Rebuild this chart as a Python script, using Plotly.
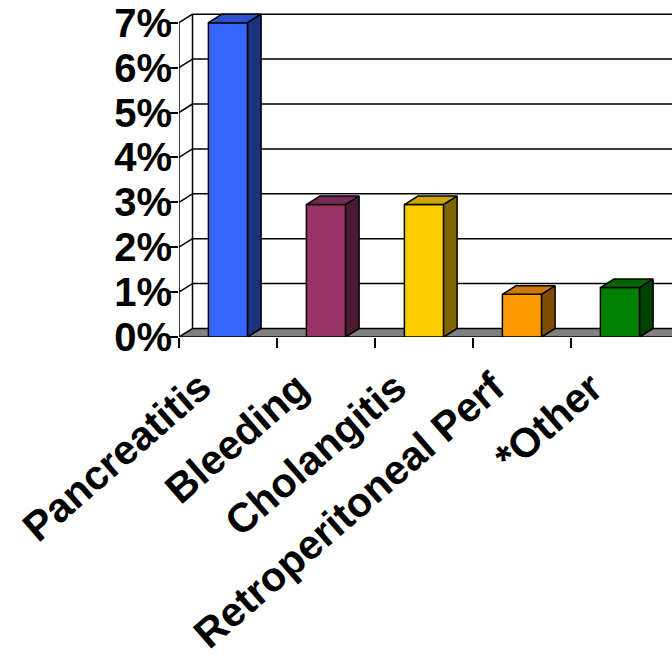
import plotly.graph_objects as go

categories = ["Pancreatitis", "Bleeding", "Cholangitis", "Retroperitoneal Perf", "*Other"]
values = [7.0, 2.95, 2.95, 0.95, 1.1]
front_colors = ["#3366FF", "#993366", "#FFCC00", "#FF9900", "#008000"]
top_colors = ["#2952CC", "#7A2952", "#CCA300", "#CC7A00", "#006600"]
side_colors = ["#1A3380", "#4D1A33", "#806600", "#804D00", "#004000"]
y_ticks = [0, 1, 2, 3, 4, 5, 6, 7]

W, H = 672, 658
left_px, right_px, top_px, bottom_px = 179, 0, 5, 658 - 337
cat_px = 98.0
pct_px = 44.9
plot_w = W - left_px - right_px
plot_h = H - top_px - bottom_px
x0 = -0.5
xmax = x0 + plot_w / cat_px
ymax = plot_h / pct_px
ddx = 13.5 / cat_px   # depth offset in data units
ddy = 8.5 / pct_px
bw = 0.4

fig = go.Figure()

# bar front faces
fig.add_trace(go.Bar(
    x=list(range(len(categories))), y=values, width=bw,
    marker=dict(color=front_colors, line=dict(color="black", width=1.5)),
    hoverinfo="skip", showlegend=False,
))

# bar top and side faces
for i, v in enumerate(values):
    xl, xr = i - bw / 2, i + bw / 2
    fig.add_trace(go.Scatter(
        x=[xl, xr, xr + ddx, xl + ddx, xl], y=[v, v, v + ddy, v + ddy, v],
        fill="toself", fillcolor=top_colors[i], mode="lines",
        line=dict(color="black", width=1.5), hoverinfo="skip", showlegend=False))
    fig.add_trace(go.Scatter(
        x=[xr, xr + ddx, xr + ddx, xr, xr], y=[0, ddy, v + ddy, v, 0],
        fill="toself", fillcolor=side_colors[i], mode="lines",
        line=dict(color="black", width=1.5), hoverinfo="skip", showlegend=False))

shapes = []
# floor
shapes.append(dict(type="path", xref="x", yref="y", layer="below",
                   path=f"M {x0},0 L {xmax + 1},0 L {xmax + 1 + ddx},{ddy} L {x0 + ddx},{ddy} Z",
                   fillcolor="#808080", line=dict(color="black", width=1.5)))
# back wall gridlines
for k in y_ticks:
    if k == 0:
        continue
    shapes.append(dict(type="line", xref="x", yref="y", layer="below",
                       x0=x0 + ddx, x1=xmax + 1, y0=k + ddy, y1=k + ddy,
                       line=dict(color="black", width=1.5)))
    # left wall diagonals
    shapes.append(dict(type="line", xref="x", yref="y", layer="below",
                       x0=x0, x1=x0 + ddx, y0=k, y1=k + ddy,
                       line=dict(color="black", width=1.5)))
# back wall left edge
shapes.append(dict(type="line", xref="x", yref="y", layer="below",
                   x0=x0 + ddx, x1=x0 + ddx, y0=ddy, y1=max(y_ticks) + ddy,
                   line=dict(color="black", width=1.5)))
# front vertical axis
shapes.append(dict(type="line", xref="x", yref="y", layer="below",
                   x0=x0, x1=x0, y0=0, y1=max(y_ticks),
                   line=dict(color="black", width=1.5)))
fig.update_layout(shapes=shapes)

font_family = "Liberation Sans, Arial, sans-serif"

# category labels, rotated
label_dx = -6 / cat_px
label_y = -24 / plot_h
for i, name in enumerate(categories):
    fig.add_annotation(x=i + label_dx, y=label_y, xref="x", yref="paper",
                       text=name, showarrow=False, textangle=-41,
                       xanchor="right", yanchor="top",
                       font=dict(family=font_family, size=41, color="black", weight="bold"))

fig.update_layout(
    width=W, height=H,
    margin=dict(l=left_px, r=right_px, t=top_px, b=bottom_px, pad=0),
    paper_bgcolor="white", plot_bgcolor="white",
    xaxis=dict(range=[x0, xmax], tickvals=[x0 + k for k in range(len(categories))],
               ticktext=["" for _ in categories],
               ticks="outside", ticklen=10, tickwidth=1.5, tickcolor="black",
               showgrid=False, zeroline=False, showline=False),
    yaxis=dict(range=[0, ymax], tickvals=y_ticks, ticktext=[f"{k}%" for k in y_ticks],
               ticks="outside", ticklen=11, tickwidth=1.5, tickcolor="black",
               ticklabelstandoff=-13,
               showgrid=False, zeroline=False, showline=False,
               tickfont=dict(family=font_family, size=40, color="black", weight="bold")),
)

fig.write_html("out.html")
